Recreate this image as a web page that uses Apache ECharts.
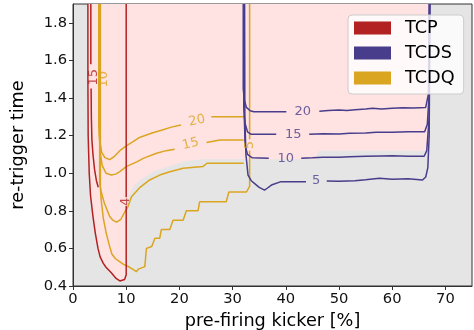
<!DOCTYPE html>
<html>
<head>
<meta charset="utf-8">
<script src="https://cdn.jsdelivr.net/npm/echarts@6/dist/echarts.min.js"></script>
<style>
  html, body { margin: 0; padding: 0; background: #ffffff; }
  #chart { width: 474px; height: 330px; }
</style>
</head>
<body>
<div id="chart"></div>
<script>
// Devices shown in the legend
const devices = ['TCP', 'TCDS', 'TCDQ'];

// Area where all devices are within tolerance (pre-firing %, re-trigger time)
const safeRegion = [
  [2.8, 1.9], [2.8, 1.5], [2.85, 1.2], [3.05, 1.0], [3.3, 0.88], [3.75, 0.77], [4.2, 0.68],
  [4.7, 0.6], [5.1, 0.555], [5.7, 0.52], [6.2, 0.5], [7.2, 0.47], [8.1, 0.44], [8.8, 0.427],
  [9.7, 0.435], [10.05, 0.46], [10.05, 0.857], [11.3, 0.925], [12.6, 0.964], [13.5, 0.978],
  [15.1, 1.008], [16.3, 1.02], [18.8, 1.043], [21.3, 1.065], [24.4, 1.074], [45.6, 1.074],
  [46.2, 1.12], [67.0, 1.12], [67.0, 1.9]
];

// TCP contour levels (null = break for inline label)
const tcpLevel4 = [
  [2.8, 1.9], [2.8, 1.5], [2.85, 1.2], [3.05, 1.0], [3.3, 0.88], [3.75, 0.77], [4.2, 0.68],
  [4.7, 0.6], [5.1, 0.555], [5.7, 0.52], [6.2, 0.5], [7.2, 0.47], [8.1, 0.44], [8.8, 0.427],
  [9.7, 0.435], [10.0, 0.46], [10.0, 0.825], null, [10.0, 0.872], [10.0, 1.9]
];
const tcpLevel15 = [
  [3.35, 1.9], [3.35, 1.58], null, [3.4, 1.45], [3.45, 1.3], [3.55, 1.18], [3.75, 1.1],
  [4.05, 1.02], [4.4, 0.96], [4.75, 0.925]
];

// TCDQ contour levels
const tcdqLevel20 = [
  [4.85, 1.9], [4.85, 1.25], [5.05, 1.17], [5.4, 1.11], [6.0, 1.083], [6.9, 1.072], [7.8, 1.09],
  [8.8, 1.12], [10, 1.145], [11.3, 1.168], [12.5, 1.19], [13.8, 1.203], [15, 1.215], [16.3, 1.226],
  [18.5, 1.245], [20.3, 1.256], null, [26, 1.30], [29, 1.30], [32.1, 1.30]
];
const tcdqLevel15 = [
  [4.95, 1.9], [4.95, 1.2], [5.15, 1.1], [5.5, 1.04], [6.2, 1.0], [7.2, 0.99], [8.0, 0.995],
  [8.8, 1.008], [10, 1.035], [10.7, 1.044], [12, 1.06], [13.2, 1.079], [15.7, 1.106], [17.5, 1.12],
  [19.1, 1.127], null, [25.1, 1.163], [27.6, 1.177], [32.1, 1.177]
];
const tcdqLevel10 = [
  [5.05, 1.9], [5.0, 0.95], [5.3, 0.9], [5.9, 0.84], [6.9, 0.77], [7.5, 0.75], [8.2, 0.74],
  [9.0, 0.755], [9.75, 0.795], [10.3, 0.82], [11.0, 0.875], [12.6, 0.925], [14.4, 0.964],
  [16.3, 0.99], [18.2, 1.008], [20.7, 1.026], [24.4, 1.035], [25.2, 1.053], [32.1, 1.053]
];
const tcdqLevel5 = [
  [5.15, 1.9], [5.15, 0.92], [5.3, 0.857], [5.7, 0.76], [6.25, 0.68], [6.8, 0.62], [7.3, 0.57],
  [8.0, 0.545], [8.75, 0.53], [9.5, 0.515], [10.3, 0.505], [11.2, 0.49], [11.9, 0.476], [12.3, 0.49],
  [12.6, 0.50], [13.5, 0.503], [13.8, 0.60], [14.8, 0.61], [15.4, 0.654], [16.3, 0.654], [16.6, 0.70],
  [18.2, 0.70], [18.8, 0.75], [20.7, 0.75], [21.3, 0.80], [23.5, 0.80], [23.8, 0.848], [28.8, 0.848],
  [29.3, 0.90], [32.6, 0.90], [33.2, 0.93], [33.2, 1.12], null, [33.2, 1.18], [33.2, 1.9]
];

// TCDS contour levels
const tcdsLevel20 = [
  [32.0, 1.9], [32.0, 1.45], [32.2, 1.39], [32.6, 1.35], [33.3, 1.332], [34, 1.327], [40.1, 1.327],
  null, [46.3, 1.33], [48, 1.333], [50, 1.336], [51.5, 1.334], [53, 1.338], [55, 1.342], [56.3, 1.345],
  [58, 1.342], [60, 1.346], [62, 1.348], [64, 1.347], [66.3, 1.35], [66.8, 1.42], [66.95, 1.9]
];
const tcdsLevel15 = [
  [32.1, 1.9], [32.1, 1.35], [32.3, 1.27], [32.8, 1.22], [33.5, 1.207], [38.2, 1.207], null,
  [44.4, 1.207], [47, 1.21], [50, 1.208], [52, 1.212], [55, 1.214], [57, 1.218], [60, 1.218],
  [63, 1.22], [66.1, 1.22], [66.6, 1.26], [66.9, 1.4], [67.0, 1.9]
];
const tcdsLevel10 = [
  [32.2, 1.9], [32.2, 1.3], [32.35, 1.15], [32.8, 1.1], [33.7, 1.082], [36.8, 1.08], null,
  [42.9, 1.08], [45, 1.082], [47, 1.085], [50, 1.085], [52, 1.088], [55, 1.09], [58, 1.092],
  [60, 1.093], [63, 1.09], [66, 1.09], [66.5, 1.12], [66.95, 1.3], [67.05, 1.9]
];
const tcdsLevel5 = [
  [32.25, 1.9], [32.3, 1.3], [32.5, 1.1], [32.9, 0.99], [33.5, 0.96], [34.1, 0.946], [35, 0.925],
  [36, 0.91], [36.5, 0.92], [37.3, 0.937], [39.1, 0.955], [43.8, 0.955], null, [47.7, 0.958],
  [50, 0.957], [53, 0.96], [55, 0.965], [57.6, 0.973], [60, 0.968], [63, 0.97], [65.7, 0.964],
  [66.3, 0.98], [66.7, 1.03], [66.95, 1.2], [67.1, 1.9]
];

// Inline contour labels: text and anchor point
const tcpLabelText = ['15', '4'];
const tcpLabelAt = [[3.9, 1.51], [9.85, 0.848]];
const tcdqLabelText = ['20', '15', '10', '5'];
const tcdqLabelAt = [[23.3, 1.279], [22.1, 1.155], [5.8, 1.5], [33.2, 1.15]];
const tcdsLabelText = ['20', '15', '10', '5'];
const tcdsLabelAt = [[43.2, 1.327], [41.4, 1.207], [40.0, 1.08], [45.7, 0.96]];

// ---- styling ----
const colors = { TCP: '#b22222', TCDS: '#483d8b', TCDQ: '#daa520' };
const font = 'DejaVu Sans, Liberation Sans, sans-serif';
const tcpAngles = [90, 90];
const tcdqAngles = [12, 14, 90, 90];
const tcdsAngles = [0, 0, 0, 0];

function splitSegments(points) {
  const out = [];
  let cur = [];
  points.forEach(p => {
    if (p === null) { if (cur.length) out.push(cur); cur = []; }
    else cur.push(p);
  });
  if (cur.length) out.push(cur);
  return out;
}

function contourSeries(name, levels) {
  const list = [];
  levels.forEach(level => {
    splitSegments(level).forEach(seg => {
      list.push({
        name: name,
        type: 'line',
        data: seg,
        showSymbol: false,
        symbol: 'none',
        silent: true,
        color: colors[name],
        itemStyle: { color: colors[name] },
        lineStyle: { color: colors[name], width: 1.5 },
        z: 3
      });
    });
  });
  return list;
}

function labelSeries(name, texts, points, angles) {
  return {
    name: name + '-labels',
    type: 'scatter',
    symbolSize: 0,
    silent: true,
    z: 5,
    data: texts.map((t, i) => ({
      value: points[i],
      label: {
        show: true,
        position: 'inside',
        formatter: t,
        rotate: angles[i],
        color: colors[name],
        fontSize: 13,
        fontFamily: font
      }
    }))
  };
}

const series = [
  {
    name: 'safe-region',
    type: 'custom',
    silent: true,
    z: 1,
    data: [[0, 0]],
    renderItem: function (params, api) {
      const pts = safeRegion.map(p => api.coord(p));
      return { type: 'polygon', shape: { points: pts }, style: { fill: '#ffe2e2' } };
    }
  }
]
  .concat(contourSeries('TCDQ', [tcdqLevel5, tcdqLevel10, tcdqLevel15, tcdqLevel20]))
  .concat(contourSeries('TCP', [tcpLevel4, tcpLevel15]))
  .concat(contourSeries('TCDS', [tcdsLevel5, tcdsLevel10, tcdsLevel15, tcdsLevel20]))
  .concat([
    labelSeries('TCP', tcpLabelText, tcpLabelAt, tcpAngles),
    labelSeries('TCDQ', tcdqLabelText, tcdqLabelAt, tcdqAngles),
    labelSeries('TCDS', tcdsLabelText, tcdsLabelAt, tcdsAngles)
  ]);

const chart = echarts.init(document.getElementById('chart'), null, { renderer: 'canvas' });
chart.setOption({
  animation: false,
  textStyle: { fontFamily: font },
  grid: {
    left: 73, right: 2, top: 4, bottom: 44,
    containLabel: false, outerBoundsMode: 'none',
    show: true, backgroundColor: '#e5e5e5', borderColor: '#333333', borderWidth: 1
  },
  xAxis: {
    type: 'value', min: 0, max: 75, interval: 10,
    name: 'pre-firing kicker [%]', nameLocation: 'middle', nameGap: 22,
    nameTextStyle: { fontSize: 17.7, color: '#000', fontFamily: font },
    axisLine: { show: true, lineStyle: { color: '#333333', width: 1 } },
    axisTick: { show: true, length: 4, lineStyle: { color: '#333333' } },
    axisLabel: { fontSize: 14.7, color: '#111', margin: 6, fontFamily: font,
                 showMaxLabel: false },
    splitLine: { show: false }
  },
  yAxis: {
    type: 'value', min: 0.4, max: 1.9, interval: 0.2,
    name: 're-trigger time', nameLocation: 'middle', nameGap: 46, nameRotate: 90,
    nameTextStyle: { fontSize: 17.7, color: '#000', fontFamily: font },
    axisLine: { show: true, lineStyle: { color: '#333333', width: 1 } },
    axisTick: { show: true, length: 4, lineStyle: { color: '#333333' } },
    axisLabel: { fontSize: 14.7, color: '#111', margin: 6, fontFamily: font,
                 showMaxLabel: false, formatter: v => v.toFixed(1) },
    splitLine: { show: false }
  },
  legend: {
    data: devices,
    orient: 'vertical',
    left: 348, top: 15,
    icon: 'rect',
    itemWidth: 37, itemHeight: 13, itemGap: 5,
    padding: [3, 9, 6, 6],
    backgroundColor: 'rgba(255,255,255,0.8)',
    borderColor: '#cccccc', borderWidth: 1, borderRadius: 4,
    selectedMode: false,
    textStyle: { fontSize: 17.7, color: '#000', fontFamily: font, lineHeight: 20, padding: [0, 0, 0, 9] }
  },
  series: series
});
</script>
</body>
</html>
